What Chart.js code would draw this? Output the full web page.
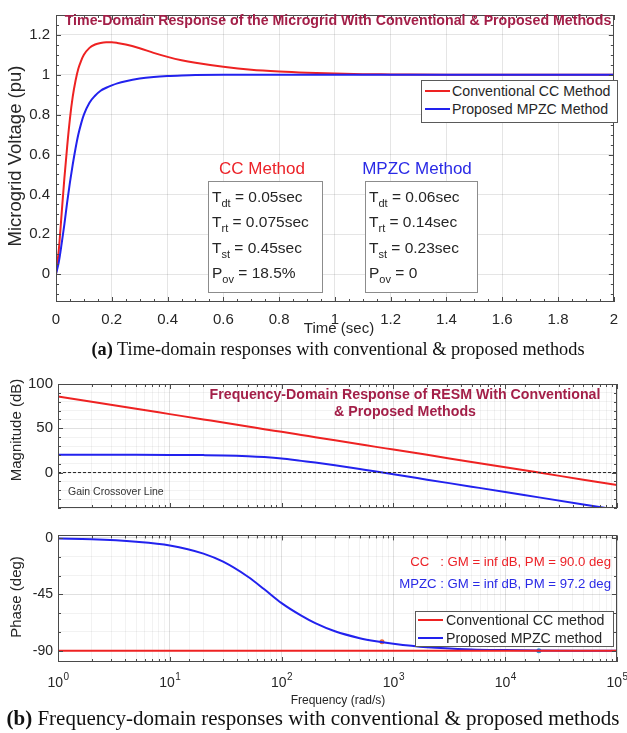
<!DOCTYPE html>
<html>
<head>
<meta charset="utf-8">
<script src="https://cdn.jsdelivr.net/npm/chart.js@4.4.1/dist/chart.umd.min.js"></script>
<style>
  html, body { margin: 0; padding: 0; background: #fff; }
  body { width: 627px; height: 733px; position: relative; overflow: hidden;
         font-family: "Liberation Sans", Arial, sans-serif; color: #262626; }
  canvas { position: absolute; left: 0; }
  .t { position: absolute; white-space: pre; line-height: 1; z-index: 5; }
  .c { transform: translate(-50%, -50%); }
  .l { transform: translate(0, -50%); }
  .r { transform: translate(-100%, -50%); }
  .rot { transform: translate(-50%, -50%) rotate(-90deg); }
  .ttl { font-weight: bold; color: #a31f48; font-size: 14.2px; }
  .box { position: absolute; border: 1.5px solid #8c8c8c; background: #fff; z-index: 4; box-sizing: border-box; }
  .lg { position: absolute; border: 1px solid #5a5a5a; background: #fff; z-index: 4; box-sizing: border-box; }
  .sw { position: absolute; height: 0; border-top: 2px solid; z-index: 6; }
  sub { font-size: 11px; vertical-align: 0; position: relative; top: 5px; }
  .cap { font-family: "Liberation Serif", "Times New Roman", serif; color: #111; }
</style>
</head>
<body>
<canvas id="timeChart" width="627" height="340" style="top:0"></canvas>
<canvas id="magChart" width="627" height="152" style="top:370px"></canvas>
<canvas id="phaseChart" width="627" height="188" style="top:522px"></canvas>

<!-- (a) time-domain panel -->
<div class="t c ttl" style="left:338px;top:20px">Time-Domain Response of the Microgrid With Conventional &amp; Proposed Methods</div>
<div class="t rot" style="left:15px;top:156px;font-size:18.5px">Microgrid Voltage (pu)</div>
<div class="t c" style="left:339px;top:327px;font-size:15px">Time (sec)</div>

<div class="lg" style="left:421px;top:80px;width:197px;height:43px"></div>
<div class="sw" style="left:425px;top:90px;width:25px;border-color:#ee2222"></div>
<div class="t l" style="left:452px;top:91px;font-size:14.2px">Conventional CC Method</div>
<div class="sw" style="left:425px;top:108px;width:25px;border-color:#2222ee"></div>
<div class="t l" style="left:452px;top:109px;font-size:14.2px">Proposed MPZC Method</div>

<div class="t c" style="left:262px;top:168px;font-size:17px;color:#ec2228">CC Method</div>
<div class="t c" style="left:417px;top:168px;font-size:17px;color:#2a2ae6">MPZC Method</div>
<div class="box" style="left:208px;top:181px;width:115px;height:112px"></div>
<div class="box" style="left:365px;top:181px;width:113px;height:112px"></div>
<div class="t l" style="left:212px;top:197px;font-size:15.5px">T<sub>dt</sub> = 0.05sec</div>
<div class="t l" style="left:212px;top:222px;font-size:15.5px">T<sub>rt</sub> = 0.075sec</div>
<div class="t l" style="left:212px;top:248px;font-size:15.5px">T<sub>st</sub> = 0.45sec</div>
<div class="t l" style="left:212px;top:273px;font-size:15.5px">P<sub>ov</sub> = 18.5%</div>
<div class="t l" style="left:369px;top:197px;font-size:15.5px">T<sub>dt</sub> = 0.06sec</div>
<div class="t l" style="left:369px;top:222px;font-size:15.5px">T<sub>rt</sub> = 0.14sec</div>
<div class="t l" style="left:369px;top:248px;font-size:15.5px">T<sub>st</sub> = 0.23sec</div>
<div class="t l" style="left:369px;top:273px;font-size:15.5px">P<sub>ov</sub> = 0</div>

<div class="t c cap" style="left:338px;top:349px;font-size:18.3px"><b>(a)</b> Time-domain responses with conventional &amp; proposed methods</div>

<!-- (b) frequency-domain panel -->
<div class="t c ttl" style="left:405px;top:394px">Frequency-Domain Response of RESM With Conventional</div>
<div class="t c ttl" style="left:405px;top:411px">&amp; Proposed Methods</div>
<div class="t l" style="left:68px;top:491px;font-size:10.5px;color:#333">Gain Crossover Line</div>
<div class="t rot" style="left:15px;top:430px;font-size:15px">Magnitude (dB)</div>
<div class="t rot" style="left:15px;top:597px;font-size:15px">Phase (deg)</div>

<div class="t r" style="left:611px;top:562px;font-size:13.2px;color:#ec2228">CC   : GM = inf dB, PM = 90.0 deg</div>
<div class="t r" style="left:611px;top:584px;font-size:13.2px;color:#2a2ae6">MPZC : GM = inf dB, PM = 97.2 deg</div>

<div class="lg" style="left:415px;top:611px;width:199px;height:36px"></div>
<div class="sw" style="left:418px;top:619px;width:25px;border-color:#ee2222"></div>
<div class="t l" style="left:446px;top:620px;font-size:14.2px">Conventional CC method</div>
<div class="sw" style="left:418px;top:637px;width:25px;border-color:#2222ee"></div>
<div class="t l" style="left:446px;top:638px;font-size:14.2px">Proposed MPZC method</div>

<div class="t c" style="left:338px;top:700px;font-size:12px">Frequency (rad/s)</div>
<div class="t c cap" style="left:313px;top:718px;font-size:21px"><b>(b)</b> Frequency-domain responses with conventional &amp; proposed methods</div>

<script>
// ---- time-domain step responses (pu) ----
const timeSec     = [0, 0.01, 0.02, 0.03, 0.04, 0.05, 0.06, 0.07, 0.08, 0.09, 0.10, 0.12, 0.14, 0.16, 0.18, 0.20, 0.22, 0.25, 0.30, 0.35, 0.40, 0.45, 0.50, 0.60, 0.70, 0.80, 0.90, 1.00, 1.10, 1.20, 1.40, 1.60, 1.80, 2.00];
const ccVoltage   = [0, 0.12, 0.30, 0.48, 0.64, 0.78, 0.89, 0.97, 1.03, 1.07, 1.10, 1.135, 1.152, 1.160, 1.163, 1.163, 1.160, 1.152, 1.133, 1.110, 1.090, 1.073, 1.060, 1.040, 1.025, 1.016, 1.010, 1.006, 1.003, 1.002, 1.000, 1.000, 1.000, 1.000];
const mpzcVoltage = [0, 0.06, 0.15, 0.25, 0.36, 0.46, 0.55, 0.63, 0.70, 0.755, 0.80, 0.86, 0.895, 0.92, 0.935, 0.947, 0.957, 0.968, 0.981, 0.989, 0.994, 0.997, 0.999, 1.000, 1.000, 1.000, 1.000, 1.000, 1.000, 1.000, 1.000, 1.000, 1.000, 1.000];

// ---- Bode data ----
const freqRad     = [1, 2, 5, 10, 20, 30, 50, 70, 100, 150, 200, 300, 500, 700, 1000, 2000, 5000, 10000, 20000, 50000, 100000];
const ccMagDb     = [86, 80, 72, 66, 60, 56.5, 52, 49, 46, 42.5, 40, 36.5, 32, 29, 26, 20, 12, 6, 0, -8, -14];
const mpzcMagDb   = [20, 20, 20, 19.9, 19.7, 19.4, 18.5, 17.5, 15.9, 13.2, 11.3, 8.2, 4.0, 1.2, -2.0, -8.0, -15.9, -21.9, -28, -36, -42];
const ccPhaseDeg  = [-90, -90, -90, -90, -90, -90, -90, -90, -90, -90, -90, -90, -90, -90, -90, -90, -90, -90, -90, -90, -90];
const mpzcPhaseDeg= [-0.5, -1, -3, -6, -12.5, -19, -31, -41, -52, -62, -68, -74.5, -80, -82.5, -84.5, -87.3, -89, -89.5, -89.8, -89.95, -90];
const gainCrossFreq = [1, 100000];
const gainCrossDb   = [0, 0];
const marginFreq    = [790, 20000];
const marginPhase   = [-82.8, -90];

// ---- tick labels ----
const magTickDb     = [0, 50, 100];
const phaseTickDeg  = [-90, -45, 0];
const decadeExp     = [0, 1, 2, 3, 4, 5];

const RED = '#ee2222', BLUE = '#2222ee', INK = '#262626';
const FONT = '"Liberation Sans", Arial, sans-serif';
const pts = (xs, ys) => xs.map((x, i) => ({ x, y: ys[i] }));
const near = (v, step) => Math.abs(v / step - Math.round(v / step)) < 1e-6;
const isDecade = v => near(Math.log10(v), 1);
const range = (a, b, s) => { const r = []; for (let k = 0; a + k * s <= b + 1e-9; k++) r.push(+(a + k * s).toFixed(4)); return r; };

// box frame with inward tick marks on all four sides
function framePlugin(isMajorX, isMajorY) {
  return {
    id: 'frame',
    afterDatasetsDraw(chart) {
      const { ctx, chartArea: a } = chart;
      ctx.save();
      ctx.strokeStyle = '#4a4a4a';
      ctx.lineWidth = 1;
      ctx.strokeRect(Math.round(a.left) + 0.5, Math.round(a.top) + 0.5,
                     Math.round(a.right - a.left) - 1, Math.round(a.bottom - a.top) - 1);
      const sx = chart.scales.x, sy = chart.scales.y;
      ctx.beginPath();
      sx.ticks.forEach(t => {
        const len = isMajorX(t.value) ? 5 : 3;
        const p = Math.round(sx.getPixelForValue(t.value)) + 0.5;
        ctx.moveTo(p, a.bottom); ctx.lineTo(p, a.bottom - len);
        ctx.moveTo(p, a.top); ctx.lineTo(p, a.top + len);
      });
      sy.ticks.forEach(t => {
        const len = isMajorY(t.value) ? 5 : 3;
        const p = Math.round(sy.getPixelForValue(t.value)) + 0.5;
        ctx.moveTo(a.left, p); ctx.lineTo(a.left + len, p);
        ctx.moveTo(a.right, p); ctx.lineTo(a.right - len, p);
      });
      ctx.stroke();
      ctx.restore();
    }
  };
}

// decade labels written as 10 with a raised exponent
const decadeLabels = {
  id: 'decadeLabels',
  afterDraw(chart) {
    const s = chart.scales.x, ctx = chart.ctx, y = chart.chartArea.bottom + 21;
    ctx.save();
    ctx.fillStyle = INK;
    ctx.textBaseline = 'middle';
    ctx.textAlign = 'left';
    decadeExp.forEach(e => {
      const px = s.getPixelForValue(Math.pow(10, e));
      ctx.font = '14px ' + FONT;
      const w1 = ctx.measureText('10').width;
      ctx.font = '10px ' + FONT;
      const w2 = ctx.measureText(String(e)).width;
      const x0 = px - (w1 + w2) / 2;
      ctx.font = '14px ' + FONT;
      ctx.fillText('10', x0, y);
      ctx.font = '10px ' + FONT;
      ctx.fillText(String(e), x0 + w1 + 0.5, y - 6);
    });
    ctx.restore();
  }
};

const common = {
  responsive: false,
  animation: false,
  devicePixelRatio: 1,
  events: [],
  plugins: { legend: { display: false }, tooltip: { enabled: false } }
};

const lineDs = (data, color, extra) => Object.assign({
  data, borderColor: color, borderWidth: 2, pointRadius: 0,
  fill: false, cubicInterpolationMode: 'monotone'
}, extra || {});

// ---- (a) time-domain chart ----
new Chart(document.getElementById('timeChart'), {
  type: 'line',
  data: { datasets: [
    lineDs(pts(timeSec, mpzcVoltage), BLUE),
    lineDs(pts(timeSec, ccVoltage), RED)
  ] },
  options: Object.assign({}, common, {
    layout: { padding: { top: 10, right: 6, left: 0, bottom: 0 } },
    scales: {
      x: {
        type: 'linear', min: 0, max: 2,
        afterBuildTicks: s => { s.ticks = range(0, 2, 0.05).map(v => ({ value: v })); },
        afterFit: s => { s.height = 38; },
        grid: { drawTicks: false, color: c => (c.tick && near(c.tick.value, 0.2)) ? 'rgba(0,0,0,0.10)' : 'rgba(0,0,0,0)' },
        border: { display: false },
        ticks: { autoSkip: false, maxRotation: 0, padding: 9, color: INK, font: { family: FONT, size: 15 },
                 callback: v => near(v, 0.2) ? String(+v.toFixed(2)) : '' }
      },
      y: {
        type: 'linear', min: -0.14, max: 1.3,
        afterBuildTicks: s => { s.ticks = range(-0.1, 1.3, 0.05).map(v => ({ value: v })); },
        afterFit: s => { s.width = 56; },
        grid: { drawTicks: false, color: c => (c.tick && near(c.tick.value, 0.2)) ? 'rgba(0,0,0,0.10)' : 'rgba(0,0,0,0)' },
        border: { display: false },
        ticks: { autoSkip: false, padding: 6, color: INK, font: { family: FONT, size: 15 },
                 callback: v => near(v, 0.2) ? String(+v.toFixed(2)) : '' }
      }
    }
  }),
  plugins: [framePlugin(v => near(v, 0.2), v => near(v, 0.2))]
});

// ---- (b) magnitude chart ----
const logGrid = c => (c.tick && isDecade(c.tick.value)) ? 'rgba(0,0,0,0.12)' : 'rgba(0,0,0,0.05)';
new Chart(document.getElementById('magChart'), {
  type: 'line',
  data: { datasets: [
    lineDs(pts(gainCrossFreq, gainCrossDb), '#222', { borderWidth: 1, borderDash: [3, 2], cubicInterpolationMode: 'default' }),
    lineDs(pts(freqRad, ccMagDb), RED),
    lineDs(pts(freqRad, mpzcMagDb), BLUE)
  ] },
  options: Object.assign({}, common, {
    layout: { padding: { top: 14, right: 10, left: 0, bottom: 4 } },
    scales: {
      x: {
        type: 'logarithmic', min: 1, max: 100000,
        afterFit: s => { s.height = 0; },
        grid: { drawTicks: false, color: logGrid },
        border: { display: false },
        ticks: { display: false, autoSkip: false, callback: () => '' }
      },
      y: {
        type: 'linear', min: -40, max: 100,
        afterBuildTicks: s => { s.ticks = range(-40, 100, 10).map(v => ({ value: v })); },
        afterFit: s => { s.width = 58; },
        grid: { drawTicks: false, color: c => (c.tick && magTickDb.includes(c.tick.value)) ? 'rgba(0,0,0,0.12)' : 'rgba(0,0,0,0.05)' },
        border: { display: false },
        ticks: { autoSkip: false, padding: 5, color: INK, font: { family: FONT, size: 15 },
                 callback: v => magTickDb.includes(v) ? String(v) : '' }
      }
    }
  }),
  plugins: [framePlugin(isDecade, v => magTickDb.includes(v))]
});

// ---- (b) phase chart ----
new Chart(document.getElementById('phaseChart'), {
  type: 'line',
  data: { datasets: [
    lineDs(pts(freqRad, ccPhaseDeg), RED),
    lineDs(pts(freqRad, mpzcPhaseDeg), BLUE),
    { type: 'scatter', data: pts(marginFreq, marginPhase), pointRadius: 2.5, pointBorderWidth: 0,
      pointBackgroundColor: ['#e8663a', '#2a9fd6'], showLine: false }
  ] },
  options: Object.assign({}, common, {
    layout: { padding: { top: 8, right: 10, left: 0, bottom: 0 } },
    scales: {
      x: {
        type: 'logarithmic', min: 1, max: 100000,
        afterFit: s => { s.height = 48; },
        grid: { drawTicks: false, color: logGrid },
        border: { display: false },
        ticks: { display: false, autoSkip: false, callback: () => '' }
      },
      y: {
        type: 'linear', min: -99, max: 2,
        afterBuildTicks: s => { s.ticks = range(-90, 0, 15).map(v => ({ value: v })); },
        afterFit: s => { s.width = 58; },
        grid: { drawTicks: false, color: c => (c.tick && phaseTickDeg.includes(c.tick.value)) ? 'rgba(0,0,0,0.12)' : 'rgba(0,0,0,0.05)' },
        border: { display: false },
        ticks: { autoSkip: false, padding: 5, color: INK, font: { family: FONT, size: 14 },
                 callback: v => phaseTickDeg.includes(v) ? String(v) : '' }
      }
    }
  }),
  plugins: [framePlugin(isDecade, v => phaseTickDeg.includes(v)), decadeLabels]
});
</script>
</body>
</html>
